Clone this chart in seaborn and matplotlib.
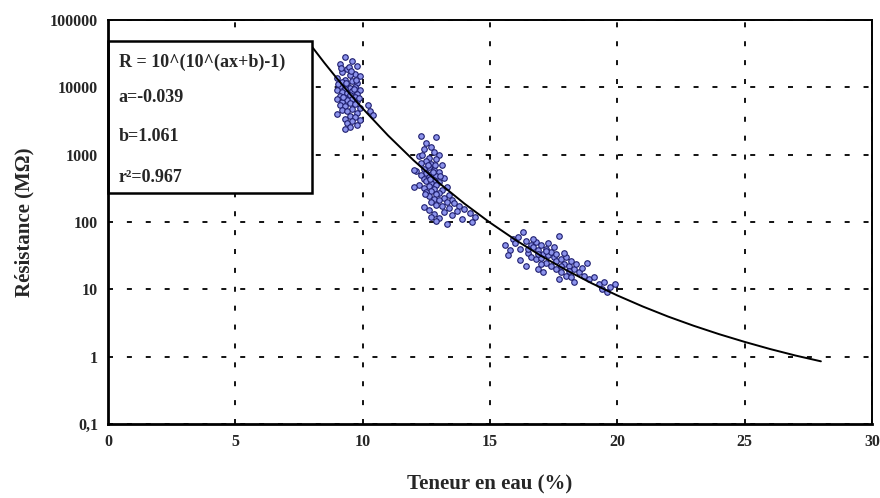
import numpy as np
import pandas as pd
import matplotlib
matplotlib.use("Agg")
import matplotlib.pyplot as plt
import seaborn as sns
from matplotlib.patches import Rectangle

# --- data ---
# cluster around 9-10 %
x1 = [9.3, 9.6, 9.1, 9.8, 9.4, 9.2, 9.7, 9.5, 9.9, 9.0,
      9.3, 9.6, 9.2, 9.8, 9.4, 9.1, 9.7, 9.5, 9.3, 9.9,
      9.0, 9.6, 9.2, 9.4, 9.8, 9.5, 9.1, 9.7, 9.3, 9.6,
      9.0, 9.4, 9.8, 9.2, 9.5, 9.7, 9.1, 9.3, 9.9, 9.6,
      9.2, 9.4, 9.8, 9.0, 9.5, 9.7, 9.3, 9.6, 9.4, 9.8,
      9.5, 9.3, 10.2, 10.3, 10.4, 9.45, 9.55, 9.35, 9.65, 9.25,
      9.75, 9.15, 9.85, 9.05, 9.9]
r1 = [28000, 25000, 22000, 21000, 19000, 17000, 16000, 15000, 14500, 14000,
      13000, 12500, 12000, 11500, 11000, 10500, 10000, 9800, 9500, 9200,
      9000, 8800, 8500, 8200, 8000, 7800, 7500, 7300, 7000, 6800,
      6600, 6400, 6200, 6000, 5800, 5600, 5400, 5200, 5000, 4800,
      4600, 4400, 4200, 4000, 3800, 3600, 3400, 3200, 3000, 2800,
      2600, 2400, 5500, 4500, 3900, 20000, 17500, 11800, 9300, 7200,
      12800, 19500, 6900, 11200, 3300]

# cluster around 12-14 %
x2 = [12.3, 12.9, 12.5, 12.7, 12.4, 12.8, 13.0, 12.2, 12.6, 12.9,
      12.5, 12.3, 12.7, 13.1, 12.6, 12.4, 12.8, 12.1, 13.0, 12.5,
      12.7, 12.3, 12.9, 12.6, 13.2, 12.4, 12.8, 12.5, 13.0, 12.7,
      12.2, 12.9, 12.6, 13.3, 12.4, 12.8, 13.1, 12.0, 12.7, 12.5,
      13.0, 12.9, 13.4, 12.6, 13.2, 12.8, 13.5, 13.0, 12.7, 13.3,
      13.6, 12.9, 13.8, 13.1, 12.4, 13.4, 14.0, 12.6, 13.7, 13.2,
      14.2, 12.8, 13.5, 14.4, 13.0, 13.9, 12.9, 14.3, 13.3, 12.7,
      12.0, 12.35, 12.55, 12.75, 12.45, 13.05, 12.65, 12.85]
r2 = [1900, 1800, 1500, 1300, 1200, 1100, 1000, 950, 900, 850,
      800, 750, 720, 700, 650, 620, 600, 580, 560, 540,
      520, 500, 480, 460, 450, 440, 420, 400, 390, 380,
      360, 350, 340, 330, 320, 310, 300, 330, 290, 280,
      270, 260, 250, 240, 230, 220, 215, 210, 200, 195,
      190, 180, 175, 170, 165, 160, 155, 150, 145, 140,
      135, 130, 125, 120, 115, 110, 105, 100, 95, 120,
      600, 1000, 700, 560, 260, 480, 430, 710]

# cluster around 16-20 %
x3 = [15.6, 15.9, 16.1, 15.8, 16.3, 16.0, 16.4, 16.6, 16.2, 16.5,
      16.8, 16.7, 16.9, 17.0, 17.1, 16.6, 17.2, 17.3, 16.8, 17.4,
      17.0, 17.5, 17.6, 17.2, 17.7, 17.8, 17.4, 17.9, 18.0, 17.6,
      18.1, 18.2, 17.8, 18.3, 18.4, 18.0, 18.5, 18.6, 18.2, 18.7,
      18.9, 19.1, 19.3, 19.5, 19.7, 19.4, 19.9, 19.6, 16.4, 16.9,
      17.1, 18.8, 17.5, 17.9, 16.2, 15.7, 18.3, 17.7, 16.7, 17.3,
      16.5, 16.9, 17.2, 17.6, 17.0, 17.8, 18.1]
r3 = [45, 55, 60, 38, 70, 48, 52, 45, 40, 35,
      50, 42, 38, 45, 34, 30, 40, 32, 28, 36,
      29, 30, 26, 25, 63, 28, 22, 24, 30, 20,
      22, 26, 18, 20, 24, 16, 18, 21, 15, 16,
      14, 15, 12, 13, 11, 10, 12, 9, 22, 20,
      18, 25, 42, 35, 27, 32, 13, 14, 55, 48,
      40, 33, 37, 33, 24, 22, 19]

# fitted curve R = 10^(10^(ax+b)-1), a=-0.039, b=1.061
curve_x = [8.0, 8.5, 9.0, 9.5, 10, 11, 12, 13, 14, 15, 16,
           17, 18, 19, 20, 21, 22, 23, 24, 25, 26, 27, 28]
curve_r = [40700, 23100, 13460, 8000, 4875, 1928, 826, 381,
           187.5, 98.2, 54.3, 31.6, 19.3, 12.3, 8.13, 5.57, 3.94, 2.88,
           2.16, 1.66, 1.30, 1.04, 0.853]

y_ticks = [0.1, 1, 10, 100, 1000, 10000, 100000]
y_labels = ["0,1", "1", "10", "100", "1000", "10000", "100000"]
x_ticks = [0, 5, 10, 15, 20, 25, 30]

box_lines = ["R = 10^(10^(ax+b)-1)", "a=-0.039", "b=1.061", "r²=0.967"]

points = pd.DataFrame({"teneur": x1 + x2 + x3, "resistance": r1 + r2 + r3})
curve = pd.DataFrame({"teneur": curve_x, "resistance": curve_r})

sns.set_style("white")
plt.rcParams["font.family"] = ["Liberation Serif", "DejaVu Serif"]
plt.rcParams["lines.scale_dashes"] = False

fig = plt.figure(figsize=(8.8, 4.98), dpi=100)
ax = fig.add_axes([0.1227, 0.1486, 0.868, 0.8112])

sns.scatterplot(data=points, x="teneur", y="resistance", ax=ax, s=16,
                marker="o", facecolor="#8c93ec", edgecolor="#1e1e6e",
                linewidth=0.8, zorder=3, legend=False)
sns.lineplot(data=curve, x="teneur", y="resistance", ax=ax, color="black",
             linewidth=1.4, zorder=4, estimator=None, sort=False)

ax.set_yscale("log")
ax.set_xlim(0, 30)
ax.set_ylim(0.1, 100000)
ax.set_yticks(y_ticks)
ax.set_yticklabels(y_labels)
ax.set_xticks(x_ticks)
ax.minorticks_off()
ax.tick_params(axis="both", direction="out", length=4, width=1.2, color="black",
               labelsize=11.5, pad=3)
for lab in ax.get_xticklabels() + ax.get_yticklabels():
    lab.set_fontweight("bold")

ax.grid(True, color="black", linewidth=1.3, linestyle=(0, (3.6, 10)))
for side in ["left", "bottom"]:
    ax.spines[side].set_linewidth(2.0)
for side in ["top", "right"]:
    ax.spines[side].set_linewidth(1.4)
for sp in ax.spines.values():
    sp.set_color("black")
    sp.set_zorder(6)

ax.set_xlabel("Teneur en eau (%)", fontsize=15, fontweight="bold", labelpad=18)
ax.set_ylabel("Résistance (MΩ)", fontsize=15, fontweight="bold", labelpad=11)

# equation box
ax.add_patch(Rectangle((0, 0.572), 0.267, 0.377, transform=ax.transAxes,
                       facecolor="white", edgecolor="black", linewidth=1.8,
                       zorder=5, clip_on=False))
for text, yy in zip(box_lines, [0.896, 0.807, 0.711, 0.611]):
    ax.text(0.014, yy, text, transform=ax.transAxes, fontsize=13,
            fontweight="bold", va="center", ha="left", zorder=7)

fig.savefig("out.png", dpi=100)
